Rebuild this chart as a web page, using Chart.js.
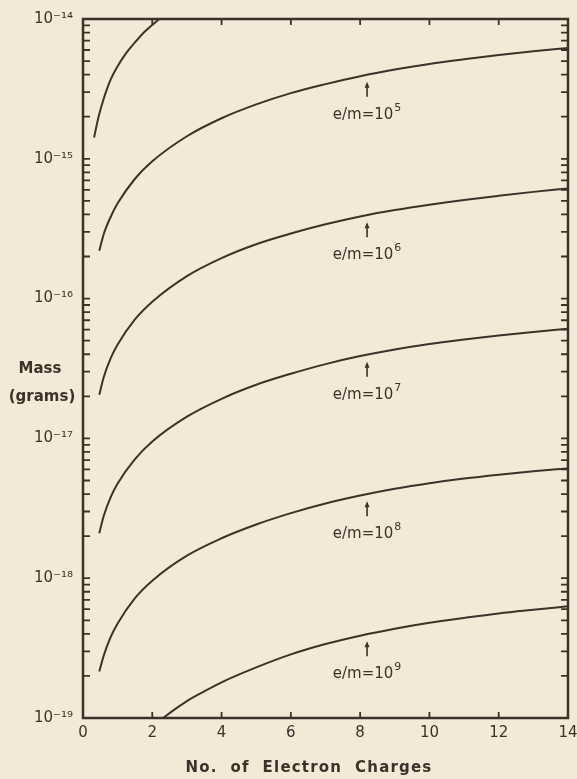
<!DOCTYPE html>
<html>
<head>
<meta charset="utf-8">
<script src="https://cdn.jsdelivr.net/npm/chart.js@4.4.1/dist/chart.umd.min.js"></script>
<style>
    html, body { margin: 0; padding: 0; background: #f4e9d6; }
    #wrap { width: 577px; height: 779px; }
</style>
</head>
<body>
<div id="wrap"><canvas id="massChart"></canvas></div>
<script>
// number of electron charges (shared by the e/m = 10^5 .. 10^8 curves)
const charges = [0.47, 0.6, 0.8, 1, 1.5, 2, 3, 4, 5, 6, 7, 8, 9, 10, 11, 12, 13, 14];

// mass in grams
const massE5 = [2.2e-16, 2.9e-16, 3.85e-16, 4.8e-16, 7.2e-16, 9.6e-16, 1.45e-15, 1.95e-15, 2.45e-15, 2.95e-15, 3.42e-15, 3.9e-15, 4.35e-15, 4.77e-15, 5.15e-15, 5.52e-15, 5.87e-15, 6.2e-15];
const massE6 = [2.05e-17, 2.75e-17, 3.75e-17, 4.7e-17, 7.1e-17, 9.5e-17, 1.45e-16, 1.95e-16, 2.45e-16, 2.92e-16, 3.4e-16, 3.87e-16, 4.3e-16, 4.7e-16, 5.08e-16, 5.44e-16, 5.8e-16, 6.13e-16];
const massE7 = [2.1e-18, 2.8e-18, 3.8e-18, 4.75e-18, 7.1e-18, 9.5e-18, 1.43e-17, 1.92e-17, 2.42e-17, 2.9e-17, 3.4e-17, 3.88e-17, 4.33e-17, 4.74e-17, 5.1e-17, 5.45e-17, 5.78e-17, 6.08e-17];
const massE8 = [2.15e-19, 2.8e-19, 3.8e-19, 4.75e-19, 7.2e-19, 9.6e-19, 1.45e-18, 1.93e-18, 2.42e-18, 2.92e-18, 3.42e-18, 3.9e-18, 4.36e-18, 4.78e-18, 5.16e-18, 5.5e-18, 5.82e-18, 6.1e-18];

// steep curve at top left (e/m = 10^4, unlabelled)
const chargesE4 = [0.32, 0.45, 0.6, 0.8, 1, 1.2, 1.5, 1.8, 2.2];
const massE4 = [1.42e-15, 2.0e-15, 2.7e-15, 3.7e-15, 4.6e-15, 5.5e-15, 6.8e-15, 8.2e-15, 1.0e-14];

// bottom curve (e/m = 10^9), starts on the x axis
const chargesE9 = [2.31, 2.6, 3, 3.5, 4, 5, 6, 7, 8, 9, 10, 11, 12, 13, 14];
const massE9 = [1.0e-19, 1.13e-19, 1.32e-19, 1.55e-19, 1.8e-19, 2.3e-19, 2.85e-19, 3.38e-19, 3.88e-19, 4.35e-19, 4.8e-19, 5.2e-19, 5.6e-19, 5.95e-19, 6.3e-19];

// axes
const xTickValues = [0, 2, 4, 6, 8, 10, 12, 14];
const decades = [1e-19, 1e-18, 1e-17, 1e-16, 1e-15, 1e-14];
const decadeLabels = ['10⁻¹⁹', '10⁻¹⁸', '10⁻¹⁷', '10⁻¹⁶', '10⁻¹⁵', '10⁻¹⁴'];
const minorSteps = [1, 2, 3, 4, 5, 6, 7, 8, 9];

// curve labels
const labelExponents = ['5', '6', '7', '8', '9'];
const labelCharge = 8.2;

const ink = '#3b322a';

function toPoints(xs, ys) {
    return xs.map((x, i) => ({ x: x, y: ys[i] }));
}

function curve(xs, ys) {
    return {
        data: toPoints(xs, ys),
        borderColor: ink,
        borderWidth: 2,
        pointRadius: 0,
        fill: false,
        cubicInterpolationMode: 'monotone'
    };
}

// y pixel of a drawn line at a given x pixel
function lineYAt(meta, px) {
    const pts = meta.data;
    for (let i = 1; i < pts.length; i++) {
        if (pts[i].x >= px) {
            const a = pts[i - 1], b = pts[i];
            const t = (px - a.x) / (b.x - a.x);
            return a.y + t * (b.y - a.y);
        }
    }
    return pts[pts.length - 1].y;
}

const framePlugin = {
    id: 'frame',
    afterDatasetsDraw(chart) {
        const ctx = chart.ctx;
        const area = chart.chartArea;
        const xs = chart.scales.x;
        const ys = chart.scales.y;

        ctx.save();
        ctx.strokeStyle = ink;
        ctx.lineWidth = 2.5;
        ctx.strokeRect(area.left, area.top, area.right - area.left, area.bottom - area.top);

        // inward ticks on left and right
        ctx.lineWidth = 1.8;
        ctx.beginPath();
        decades.forEach(d => {
            minorSteps.forEach(m => {
                const v = d * m;
                if (v > 1.0001e-14) return;
                const py = ys.getPixelForValue(v);
                ctx.moveTo(area.left, py);
                ctx.lineTo(area.left + 7, py);
                ctx.moveTo(area.right, py);
                ctx.lineTo(area.right - 7, py);
            });
        });
        // inward ticks on bottom and top
        xTickValues.slice(1, -1).forEach(v => {
            const px = xs.getPixelForValue(v);
            ctx.moveTo(px, area.bottom);
            ctx.lineTo(px, area.bottom - 6);
            ctx.moveTo(px, area.top);
            ctx.lineTo(px, area.top + 6);
        });
        ctx.stroke();

        // e/m labels with arrows
        const labelled = [1, 2, 3, 4, 5];
        labelled.forEach((dsIndex, k) => {
            const meta = chart.getDatasetMeta(dsIndex);
            const px = xs.getPixelForValue(labelCharge);
            const cy = lineYAt(meta, px);

            ctx.lineWidth = 1.6;
            ctx.beginPath();
            ctx.moveTo(px, cy + 10);
            ctx.lineTo(px, cy + 22);
            ctx.stroke();
            ctx.fillStyle = ink;
            ctx.beginPath();
            ctx.moveTo(px, cy + 7);
            ctx.lineTo(px - 2.5, cy + 13);
            ctx.lineTo(px + 2.5, cy + 13);
            ctx.closePath();
            ctx.fill();

            const base = 'e/m=10';
            ctx.font = '15px "DejaVu Sans"';
            const wBase = ctx.measureText(base).width;
            ctx.font = '11px "DejaVu Sans"';
            const wExp = ctx.measureText(labelExponents[k]).width;
            const left = px - (wBase + wExp + 1) / 2;
            const baseY = cy + 44;
            ctx.textBaseline = 'alphabetic';
            ctx.textAlign = 'left';
            ctx.font = '15px "DejaVu Sans"';
            ctx.fillText(base, left, baseY);
            ctx.font = '11px "DejaVu Sans"';
            ctx.fillText(labelExponents[k], left + wBase + 1, baseY - 8);
        });

        // axis titles
        ctx.fillStyle = ink;
        ctx.textAlign = 'center';
        ctx.textBaseline = 'middle';
        ctx.font = 'bold 15px "DejaVu Sans"';
        ctx.fillText('Mass', 40, 369);
        ctx.fillText('(grams)', 42, 397);
        if ('letterSpacing' in ctx) ctx.letterSpacing = '1.2px';
        ctx.fillText('No.  of  Electron  Charges', 309, 768);
        ctx.restore();
    }
};

new Chart(document.getElementById('massChart'), {
    type: 'line',
    data: {
        datasets: [
            curve(chargesE4, massE4),
            curve(charges, massE5),
            curve(charges, massE6),
            curve(charges, massE7),
            curve(charges, massE8),
            curve(chargesE9, massE9)
        ]
    },
    options: {
        responsive: true,
        maintainAspectRatio: false,
        animation: false,
        layout: {
            padding: { left: 0, top: 17, right: 9, bottom: 0 }
        },
        plugins: {
            legend: { display: false },
            tooltip: { enabled: false }
        },
        scales: {
            x: {
                type: 'linear',
                min: 0,
                max: 14,
                afterBuildTicks: scale => {
                    scale.ticks = xTickValues.map(v => ({ value: v }));
                },
                afterFit: scale => {
                    scale.height = 61;
                    scale.paddingLeft = 0;
                    scale.paddingRight = 0;
                },
                grid: { display: false, drawTicks: false },
                border: { display: false },
                ticks: {
                    color: ink,
                    padding: 6,
                    maxRotation: 0,
                    font: { size: 15, family: 'DejaVu Sans' }
                }
            },
            y: {
                type: 'logarithmic',
                min: 1e-19,
                max: 1e-14,
                afterBuildTicks: scale => {
                    scale.ticks = decades.map(v => ({ value: v }));
                },
                afterFit: scale => { scale.width = 83; },
                grid: { display: false, drawTicks: false },
                border: { display: false },
                ticks: {
                    color: ink,
                    padding: 10,
                    font: { size: 15, family: 'DejaVu Sans' },
                    callback: (value, index) => decadeLabels[index]
                }
            }
        }
    },
    plugins: [framePlugin]
});
</script>
</body>
</html>
